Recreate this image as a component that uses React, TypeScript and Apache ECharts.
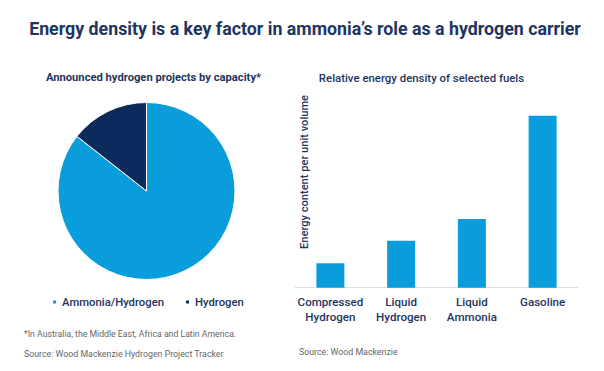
import React, { useEffect, useRef } from "react";
import * as echarts from "echarts";

const pieNames = ["Ammonia/Hydrogen", "Hydrogen"];
const pieValues = [85.6, 14.4];
const pieColors = ["#0a9ddb", "#0c2a5b"];

const fuelCategories = ["Compressed\nHydrogen", "Liquid\nHydrogen", "Liquid\nAmmonia", "Gasoline"];
const fuelValues = [14.2, 27.3, 40, 100];

const NAVY = "#1e3560";
const FONT = "Roboto";

export default function App() {
  const ref = useRef<HTMLDivElement>(null);
  useEffect(() => {
    document.body.style.margin = "0";
    const chart = echarts.init(ref.current!, null, { renderer: "svg" });
    chart.setOption({
      animation: false,
      backgroundColor: "#ffffff",
      textStyle: { fontFamily: FONT },
      legend: {
        left: 46,
        top: 291.5,
        icon: "rect",
        itemWidth: 5,
        itemHeight: 5,
        itemGap: 20,
        data: pieNames,
        textStyle: { fontSize: 11.3, color: NAVY, fontWeight: 500, fontFamily: FONT },
      },
      grid: { left: 295, right: 26, top: 115.7, bottom: 83.3 },
      xAxis: {
        type: "category",
        data: fuelCategories,
        axisLine: { lineStyle: { color: "#dddddd", width: 1 } },
        axisTick: { show: false },
        axisLabel: {
          color: NAVY,
          fontSize: 11.6,
          fontWeight: 500,
          lineHeight: 15,
          margin: 7,
          fontFamily: FONT,
          interval: 0,
        },
      },
      yAxis: { type: "value", min: 0, max: 100, show: false },
      series: [
        {
          type: "pie",
          center: [146.5, 191],
          radius: 88.5,
          startAngle: 90,
          clockwise: true,
          label: { show: false },
          labelLine: { show: false },
          itemStyle: { borderColor: "#ffffff", borderWidth: 1 },
          data: pieNames.map((n, i) => ({ name: n, value: pieValues[i], itemStyle: { color: pieColors[i] } })),
        },
        {
          type: "bar",
          data: fuelValues,
          barWidth: 28,
          itemStyle: { color: "#0a9ddb" },
        },
      ],
      graphic: [
        {
          type: "text",
          x: 305,
          y: 28,
          style: {
            text: "Energy density is a key factor in ammonia’s role as a hydrogen carrier",
            fill: NAVY,
            font: `bold 17.8px ${FONT}`,
            textAlign: "center",
            textVerticalAlign: "middle",
          },
        },
        {
          type: "text",
          x: 153.5,
          y: 77,
          style: {
            text: "Announced hydrogen projects by capacity*",
            fill: NAVY,
            font: `bold 11.2px ${FONT}`,
            textAlign: "center",
            textVerticalAlign: "middle",
          },
        },
        {
          type: "text",
          x: 421.5,
          y: 78,
          style: {
            text: "Relative energy density of selected fuels",
            fill: NAVY,
            font: `500 11.4px ${FONT}`,
            textAlign: "center",
            textVerticalAlign: "middle",
          },
        },
        {
          type: "text",
          x: 304,
          y: 172,
          rotation: Math.PI / 2,
          style: {
            text: "Energy content per unit volume",
            fill: NAVY,
            font: `500 11.1px ${FONT}`,
            textAlign: "center",
            textVerticalAlign: "middle",
          },
        },
        {
          type: "text",
          x: 24,
          y: 334,
          style: {
            text: "*In Australia, the Middle East, Africa and Latin America.",
            fill: "#666666",
            font: `8.7px ${FONT}`,
            textVerticalAlign: "middle",
          },
        },
        {
          type: "text",
          x: 24,
          y: 354,
          style: {
            text: "Source: Wood Mackenzie Hydrogen Project Tracker",
            fill: "#666666",
            font: `8.8px ${FONT}`,
            textVerticalAlign: "middle",
          },
        },
        {
          type: "text",
          x: 299,
          y: 352,
          style: {
            text: "Source: Wood Mackenzie",
            fill: "#666666",
            font: `8.8px ${FONT}`,
            textVerticalAlign: "middle",
          },
        },
      ],
    });
    return () => chart.dispose();
  }, []);
  return <div ref={ref} style={{ width: 604, height: 371 }} />;
}
